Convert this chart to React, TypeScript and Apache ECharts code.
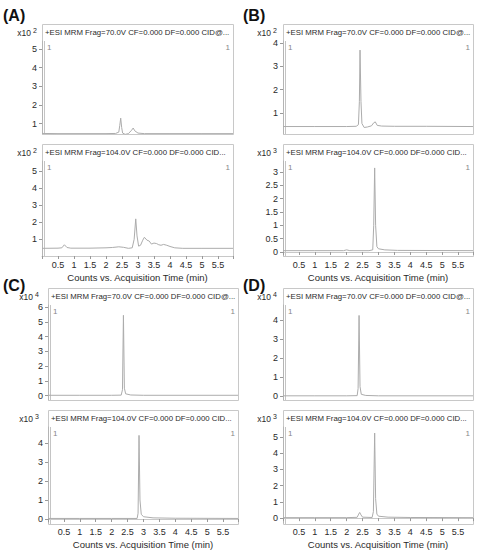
import React, { useEffect, useRef } from 'react';
import * as echarts from 'echarts';

// ---------- data ----------
const xTickLabels = [0.5, 1, 1.5, 2, 2.5, 3, 3.5, 4, 4.5, 5, 5.5];
const titleTop = '+ESI MRM Frag=70.0V CF=0.000 DF=0.000 CID@...';
const titleBottom = '+ESI MRM Frag=104.0V CF=0.000 DF=0.000 CID...';
const xAxisTitle = 'Counts vs. Acquisition Time (min)';
const panelLabels = ['(A)', '(B)', '(C)', '(D)'];

// traces: [time (min), counts in units of 10^exp]
const traceATop: [number, number][] = [
  [0, 0.48], [0.5, 0.47], [1.0, 0.47], [1.5, 0.47], [2.0, 0.47], [2.3, 0.48], [2.4, 0.55],
  [2.43, 0.9], [2.46, 1.3], [2.49, 0.8], [2.52, 0.5], [2.6, 0.43], [2.7, 0.47], [2.8, 0.65],
  [2.85, 0.77], [2.9, 0.62], [3.0, 0.5], [3.2, 0.47], [4.0, 0.47], [5.0, 0.47], [5.97, 0.47],
];
const traceABottom: [number, number][] = [
  [0, 0.47], [0.5, 0.48], [0.62, 0.5], [0.7, 0.68], [0.78, 0.52], [0.9, 0.48], [1.5, 0.48],
  [2.0, 0.5], [2.2, 0.52], [2.4, 0.56], [2.55, 0.53], [2.7, 0.47], [2.82, 0.5], [2.88, 1.0],
  [2.93, 2.2], [2.97, 1.2], [3.02, 0.6], [3.08, 0.65], [3.15, 0.95], [3.2, 1.12], [3.28, 0.95],
  [3.35, 0.9], [3.42, 0.72], [3.5, 0.78], [3.58, 0.75], [3.65, 0.68], [3.72, 0.65], [3.8, 0.7],
  [3.9, 0.65], [4.0, 0.58], [4.15, 0.5], [4.4, 0.47], [5.0, 0.47], [5.97, 0.47],
];
const traceBTop: [number, number][] = [
  [0, 0.42], [1.0, 0.42], [2.0, 0.42], [2.3, 0.43], [2.37, 0.5], [2.4, 1.5], [2.42, 3.7],
  [2.45, 1.5], [2.48, 0.55], [2.55, 0.38], [2.65, 0.4], [2.78, 0.45], [2.85, 0.58], [2.9, 0.62],
  [2.96, 0.47], [3.1, 0.44], [3.5, 0.43], [4.5, 0.43], [5.97, 0.42],
];
const traceBBottom: [number, number][] = [
  [0, 0.05], [1.0, 0.05], [1.9, 0.05], [2.0, 0.08], [2.1, 0.05], [2.7, 0.05], [2.82, 0.08],
  [2.85, 1.0], [2.88, 3.15], [2.91, 1.0], [2.95, 0.2], [3.0, 0.12], [3.2, 0.08], [3.6, 0.06],
  [5.97, 0.05],
];
const traceCTop: [number, number][] = [
  [0, 0.02], [1.0, 0.02], [2.0, 0.02], [2.3, 0.03], [2.34, 0.4], [2.37, 5.45], [2.4, 0.5],
  [2.44, 0.12], [2.6, 0.04], [3.0, 0.02], [5.97, 0.02],
];
const traceCBottom: [number, number][] = [
  [0, 0.03], [1.0, 0.03], [2.0, 0.03], [2.8, 0.03], [2.83, 0.3], [2.86, 4.4], [2.89, 1.0],
  [2.93, 0.25], [3.0, 0.12], [3.3, 0.06], [4.0, 0.04], [5.97, 0.03],
];
const traceDTop: [number, number][] = [
  [0, 0.02], [1.0, 0.02], [2.0, 0.02], [2.33, 0.03], [2.36, 0.4], [2.39, 4.25], [2.42, 0.5],
  [2.46, 0.1], [2.6, 0.04], [3.0, 0.02], [5.97, 0.02],
];
const traceDBottom: [number, number][] = [
  [0, 0.03], [1.0, 0.03], [2.0, 0.03], [2.33, 0.05], [2.38, 0.25], [2.41, 0.35], [2.45, 0.2],
  [2.5, 0.06], [2.8, 0.04], [2.84, 0.4], [2.88, 5.25], [2.91, 1.2], [2.95, 0.25], [3.0, 0.12],
  [3.3, 0.06], [4.0, 0.04], [5.97, 0.03],
];

const ticksATop = [1, 2, 3, 4, 5];
const ticksABottom = [1, 2, 3, 4, 5];
const ticksBTop = [1, 2, 3, 4];
const ticksBBottom = [0, 0.5, 1, 1.5, 2, 2.5, 3];
const ticksCTop = [0, 1, 2, 3, 4, 5, 6];
const ticksCBottom = [0, 1, 2, 3, 4];
const ticksDTop = [0, 1, 2, 3, 4];
const ticksDBottom = [0, 1, 2, 3, 4, 5];

const exponents = [2, 2, 2, 3, 4, 3, 4, 3];

// ---------- layout ----------
type Sub = { box: number; plot: number; bottom: number; min: number; max: number };
type Panel = { left: number; right: number; lx: number; ly: number; expX: number; top: Sub; bot: Sub };

const panels: Panel[] = [
  { left: 42, right: 233, lx: 3, ly: 15, expX: 31,
    top: { box: 24, plot: 41, bottom: 134, min: 0.45, max: 5.43 },
    bot: { box: 144, plot: 161, bottom: 256, min: 0.02, max: 5.6 } },
  { left: 283, right: 473, lx: 243, ly: 15, expX: 271,
    top: { box: 24, plot: 41, bottom: 134, min: 0.1, max: 4.09 },
    bot: { box: 144, plot: 161, bottom: 256, min: -0.15, max: 3.41 } },
  { left: 48, right: 238, lx: 3, ly: 285, expX: 33,
    top: { box: 288, plot: 305, bottom: 400, min: -0.3, max: 6.15 },
    bot: { box: 410, plot: 427, bottom: 524, min: -0.21, max: 4.84 } },
  { left: 283, right: 473, lx: 243, ly: 285, expX: 271,
    top: { box: 288, plot: 305, bottom: 400, min: -0.2, max: 4.8 },
    bot: { box: 410, plot: 427, bottom: 524, min: -0.3, max: 5.62 } },
];

const traces = [traceATop, traceABottom, traceBTop, traceBBottom, traceCTop, traceCBottom, traceDTop, traceDBottom];
const ticks = [ticksATop, ticksABottom, ticksBTop, ticksBBottom, ticksCTop, ticksCBottom, ticksDTop, ticksDBottom];

const FONT = '"Liberation Sans", Arial, sans-serif';
const BOX = '#c8c8c8';
const LINE = '#acacac';
const TXT = '#2a2a2a';

function buildOption() {
  const grid: any[] = [];
  const xAxis: any[] = [];
  const yAxis: any[] = [];
  const series: any[] = [];
  const graphic: any[] = [];

  panels.forEach((p, pi) => {
    graphic.push({
      type: 'text', x: p.lx, y: p.ly,
      style: { text: panelLabels[pi], font: `bold 16px ${FONT}`, fill: '#111', verticalAlign: 'middle' },
    });
    [p.top, p.bot].forEach((s, si) => {
      const idx = pi * 2 + si;
      const isBottom = si === 1;
      grid.push({ left: p.left, width: p.right - p.left, top: s.plot, height: s.bottom - s.plot, show: false });
      xAxis.push({
        type: 'value', gridIndex: idx, min: 0, max: 5.97, interval: 0.5,
        axisLine: { show: isBottom, lineStyle: { color: BOX, width: 1 } },
        axisTick: { show: isBottom, length: 3, lineStyle: { color: '#999' } },
        axisLabel: {
          show: isBottom, fontSize: 9, fontFamily: FONT, color: TXT, margin: 4,
          formatter: (v: number) => (xTickLabels.includes(v) ? String(v) : ''),
        },
        splitLine: { show: false },
        name: isBottom ? xAxisTitle : '', nameLocation: 'middle', nameGap: 16,
        nameTextStyle: { fontSize: 9.5, fontFamily: FONT, color: TXT },
      });
      yAxis.push({
        type: 'value', gridIndex: idx, min: s.min, max: s.max,
        axisLine: { show: true, lineStyle: { color: '#b4b4b4', width: 1 } },
        axisTick: { show: true, length: 3, lineStyle: { color: '#999' }, customValues: ticks[idx] },
        axisLabel: { fontSize: 9, fontFamily: FONT, color: TXT, margin: 5, customValues: ticks[idx] },
        splitLine: { show: false },
      });
      series.push({
        type: 'line', xAxisIndex: idx, yAxisIndex: idx, data: traces[idx],
        showSymbol: false, symbol: 'none', lineStyle: { color: LINE, width: 1 }, silent: true,
      });
      // box
      graphic.push({
        type: 'rect', silent: true,
        shape: { x: p.left + 0.5, y: s.box + 0.5, width: p.right - p.left, height: s.bottom - s.box },
        style: { fill: 'none', stroke: BOX, lineWidth: 1 },
      });
      // double y axis line
      graphic.push({
        type: 'line', silent: true,
        shape: { x1: p.left + 2.5, y1: s.plot, x2: p.left + 2.5, y2: s.bottom },
        style: { stroke: '#c4c4c4', lineWidth: 1 },
      });
      // title
      graphic.push({
        type: 'text', x: p.left + 3, y: s.box + 8,
        style: { text: si === 0 ? titleTop : titleBottom, font: `7.8px ${FONT}`, fill: TXT, verticalAlign: 'middle' },
      });
      // exponent
      graphic.push({
        type: 'text', x: p.expX, y: s.box + 9,
        style: { text: 'x10', font: `8.5px ${FONT}`, fill: TXT, verticalAlign: 'middle', align: 'right' },
      });
      graphic.push({
        type: 'text', x: p.expX + 2, y: s.box + 6,
        style: { text: String(exponents[idx]), font: `7px ${FONT}`, fill: TXT, verticalAlign: 'middle', align: 'left' },
      });
      // cursor markers "1"
      graphic.push({
        type: 'text', x: p.left + 5, y: s.plot + 6,
        style: { text: '1', font: `8px ${FONT}`, fill: '#888888', verticalAlign: 'middle' },
      });
      graphic.push({
        type: 'text', x: p.right - 3, y: s.plot + 6,
        style: { text: '1', font: `8px ${FONT}`, fill: '#888888', verticalAlign: 'middle', align: 'right' },
      });
    });
  });

  return { animation: false, backgroundColor: '#fff', grid, xAxis, yAxis, series, graphic };
}

export default function App() {
  const ref = useRef<HTMLDivElement>(null);
  useEffect(() => {
    const chart = echarts.init(ref.current!, null, { renderer: 'svg' });
    chart.setOption(buildOption() as any);
    return () => chart.dispose();
  }, []);
  return (
    <div
      ref={ref}
      style={{ position: 'fixed', left: 0, top: 0, width: 479, height: 550, background: '#fff' }}
    />
  );
}
